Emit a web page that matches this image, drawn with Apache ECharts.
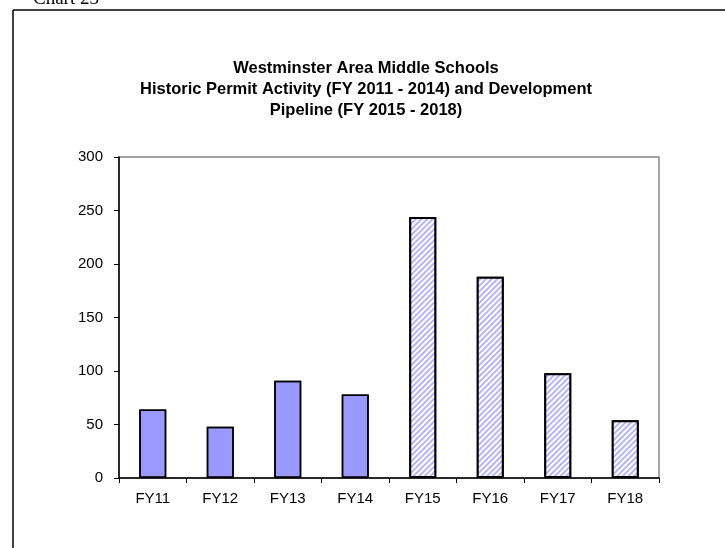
<!DOCTYPE html>
<html>
<head>
<meta charset="utf-8">
<script src="https://cdn.jsdelivr.net/npm/echarts@6/dist/echarts.min.js"></script>
<style>
  html, body { margin: 0; padding: 0; background: #fff; }
  #main { width: 725px; height: 548px; }
</style>
</head>
<body>
<div id="main"></div>
<script>
// data
const categories = ['FY11', 'FY12', 'FY13', 'FY14', 'FY15', 'FY16', 'FY17', 'FY18'];
const historic = [64, 48, 91, 78, '-', '-', '-', '-'];   // FY 2011 - 2014 permits
const pipeline = ['-', '-', '-', '-', 244, 188, 98, 54]; // FY 2015 - 2018 pipeline
const yTicks = [0, 50, 100, 150, 200, 250, 300];

const chart = echarts.init(document.getElementById('main'), null, { renderer: 'canvas' });

const option = {
  animation: false,
  backgroundColor: '#fff',
  textStyle: { fontFamily: 'Liberation Sans, Arial, sans-serif' },
  // decal is only drawn when aria decal is on
  aria: { enabled: false, decal: { show: true } },
  title: {
    text: 'Westminster Area Middle Schools\nHistoric Permit Activity (FY 2011 - 2014) and Development\nPipeline (FY 2015 - 2018)',
    left: 361,
    textAlign: 'center',
    top: 53,
    textStyle: {
      fontSize: 16.5,
      fontWeight: 'bold',
      color: '#000',
      lineHeight: 21,
      fontFamily: 'Liberation Sans, Arial, sans-serif'
    }
  },
  graphic: [
    // outer frame lines
    { type: 'line', shape: { x1: 13, y1: 10, x2: 725, y2: 10 }, style: { stroke: '#000', lineWidth: 1.5 } },
    { type: 'line', shape: { x1: 13, y1: 10, x2: 13, y2: 548 }, style: { stroke: '#000', lineWidth: 1.5 } },
    // clipped caption above the frame
    {
      type: 'text', left: 33, top: -10,
      style: { text: 'Chart 23', fontSize: 19, fontFamily: 'Liberation Serif, Times New Roman, serif', fill: '#000' }
    }
  ],
  grid: {
    left: 119, right: 66, top: 157, bottom: 70,
    show: true,
    borderColor: '#888',
    borderWidth: 1.5
  },
  xAxis: {
    type: 'category',
    data: categories,
    axisLine: { lineStyle: { color: '#000', width: 1.5 } },
    axisTick: { show: true, alignWithLabel: false, length: 5, lineStyle: { color: '#000' } },
    axisLabel: { color: '#000', fontSize: 15, margin: 13 }
  },
  yAxis: {
    type: 'value',
    min: yTicks[0],
    max: yTicks[yTicks.length - 1],
    interval: 50,
    splitLine: { show: false },
    axisLine: { show: true, lineStyle: { color: '#000', width: 1.5 } },
    axisTick: { show: true, length: 5, lineStyle: { color: '#000' } },
    axisLabel: { color: '#000', fontSize: 15, margin: 16 }
  },
  series: [
    {
      name: 'Historic',
      type: 'bar',
      stack: 'fy',
      data: historic,
      barWidth: 27,
      itemStyle: { color: '#9999ff', borderColor: '#000', borderWidth: 1.5, decal: { symbol: 'none' } }
    },
    {
      name: 'Pipeline',
      type: 'bar',
      stack: 'fy',
      data: pipeline,
      barWidth: 27,
      itemStyle: {
        color: '#ffffff',
        borderColor: '#000',
        borderWidth: 2,
        decal: {
          symbol: 'rect',
          symbolSize: 1,
          color: '#b4b4ff',
          backgroundColor: '#ffffff',
          dashArrayX: [[1, 0]],
          dashArrayY: [1.2, 2],
          rotation: -Math.PI / 4
        }
      }
    }
  ]
};

chart.setOption(option);
</script>
</body>
</html>
